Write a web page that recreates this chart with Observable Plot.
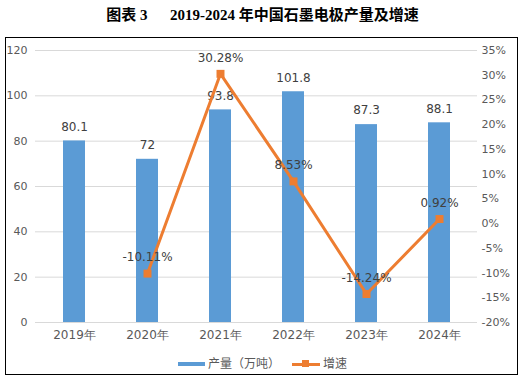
<!DOCTYPE html>
<html><head><meta charset="utf-8">
<script src="https://cdn.jsdelivr.net/npm/d3@7"></script>
<script src="https://cdn.jsdelivr.net/npm/@observablehq/plot@0.6"></script>
<style>
body{margin:0;background:#fff;font-family:"Noto Sans CJK SC",sans-serif;}
#wrap{position:relative;width:525px;height:382px;}
#title{position:absolute;left:0;top:3px;width:525px;text-align:center;font-family:"Liberation Serif","Noto Sans CJK SC",serif;font-weight:bold;font-size:15px;color:#000;}
#box{position:absolute;left:5px;top:37px;width:511px;height:336px;border:1.5px solid #000;}
#chart{position:absolute;left:0;top:37px;}
#legend{position:absolute;top:354px;left:0;width:525px;font-size:12px;color:#595959;}
.sw{position:absolute;}
</style></head>
<body><div id="wrap">
<div id="title">图表 3&nbsp;&nbsp;&nbsp;&nbsp;&nbsp;&nbsp;2019-2024 年中国石墨电极产量及增速</div>
<div id="box"></div>
<div id="chart"></div>
<div id="legend">
  <div class="sw" style="left:178px;top:8px;width:27px;height:4px;background:#5B9BD5"></div>
  <div class="sw" style="left:208px;top:0px;">产量（万吨）</div>
  <div class="sw" style="left:292px;top:8.5px;width:28px;height:3px;background:#ED7D31"></div>
  <div class="sw" style="left:302px;top:6px;width:7px;height:7px;background:#ED7D31"></div>
  <div class="sw" style="left:323px;top:0px;">增速</div>
</div>
</div>
<script>
const years = ["2019年","2020年","2021年","2022年","2023年","2024年"];
const output = [80.1, 72, 93.8, 101.8, 87.3, 88.1];
const growthYears = ["2020年","2021年","2022年","2023年","2024年"];
const growth = [-10.11, 30.28, 8.53, -14.24, 0.92];
const leftTicks = [0,20,40,60,80,100,120];
const rightTicks = [-20,-15,-10,-5,0,5,10,15,20,25,30,35];

const toLeft = p => (p + 20) / 55 * 120;
const bars = years.map((y,i)=>({year:y, v:output[i]}));
const line = growthYears.map((y,i)=>({year:y, g:growth[i], yv:toLeft(growth[i])}));

const chart = Plot.plot({
  width: 525, height: 310,
  marginLeft: 35, marginRight: 48, marginTop: 13, marginBottom: 25,
  style:{fontFamily:"DejaVu Sans, sans-serif", fontSize:"11px", color:"#595959", background:"transparent"},
  x:{domain: years, paddingInner: 0.7, paddingOuter: 0.35, label:null},
  y:{domain:[0,120], label:null},
  marks:[
    Plot.gridY(leftTicks, {stroke:"#d9d9d9", strokeOpacity:1}),
    Plot.axisY(leftTicks, {anchor:"left", tickSize:0, tickPadding:8, label:null, fill:"#595959"}),
    Plot.axisY(rightTicks.map(toLeft), {anchor:"right", tickSize:0, tickPadding:4, label:null, fill:"#595959",
      tickFormat: d => Math.round(d/120*55 - 20) + "%"}),
    Plot.axisX({tickSize:0, tickPadding:8, label:null, fill:"#595959", fontSize:12}),
    Plot.barY(bars, {x:"year", y:"v", fill:"#5B9BD5"}),
    Plot.text(bars, {x:"year", y:"v", text:d=>String(d.v), dy:-14, fill:"#404040", fontSize:12}),
    Plot.line(line, {x:"year", y:"yv", stroke:"#ED7D31", strokeWidth:3}),
    Plot.dot(line, {x:"year", y:"yv", symbol:"square", r:4.5, fill:"#ED7D31"}),
    Plot.text(line, {x:"year", y:"yv", text:d=>d.g.toFixed(2)+"%", dy:-16, fill:"#404040", fontSize:12})
  ]
});
document.getElementById("chart").appendChild(chart);
</script>
</body></html>
